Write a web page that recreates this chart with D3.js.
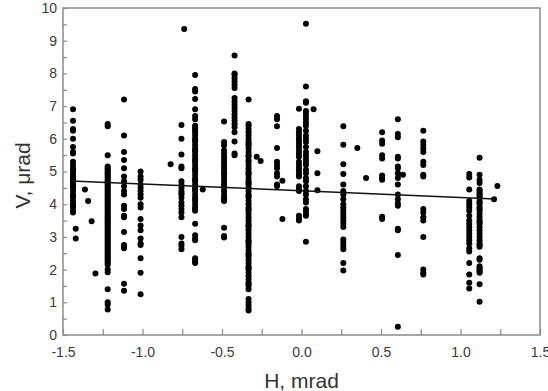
<!DOCTYPE html>
<html>
<head>
<meta charset="utf-8">
<script src="https://cdn.jsdelivr.net/npm/d3@7"></script>
<style>
  html, body { margin: 0; padding: 0; background: #fff; }
  svg { display: block; }
</style>
</head>
<body>
<div id="chart"></div>
<script>
// columnas de medidas: posición H (mrad) y lista de valores V (µrad)
const columnH = [
  -1.437, -1.420, -1.362, -1.342, -1.320, -1.296,
  -1.219, -1.116, -1.012, -0.823, -0.755, -0.738,
  -0.669, -0.621, -0.487, -0.421, -0.333, -0.282, -0.257,
  -0.154, -0.120, -0.016, 0.028, 0.076, 0.100,
  0.263, 0.351, 0.406, 0.507, 0.606, 0.638,
  0.766, 1.055, 1.120, 1.211, 1.232
];

const columnV = [
  [6.9, 6.55, 6.3, 6.25, 6.0, 5.75, 5.6, 5.55, 5.3, 5.2, 5.1, 5.05, 5.0, 4.9, 4.85, 4.8, 4.75, 4.7,
   4.65, 4.6, 4.55, 4.5, 4.4, 4.3, 4.25, 4.2, 4.1, 4.0, 3.95, 3.9, 3.8, 3.75],
  [3.25, 2.95],
  [4.45],
  [4.1],
  [3.48],
  [1.88],
  [6.45, 6.38, 5.5, 5.15, 5.1, 5.05, 5.0, 4.95, 4.9, 4.85, 4.8, 4.75, 4.7, 4.65, 4.6, 4.55, 4.5, 4.45,
   4.4, 4.35, 4.3, 4.25, 4.2, 4.15, 4.1, 4.05, 4.0, 3.95, 3.9, 3.85, 3.8, 3.75, 3.7, 3.65, 3.6, 3.55,
   3.5, 3.45, 3.4, 3.35, 3.3, 3.25, 3.2, 3.15, 3.1, 3.05, 3.0, 2.95, 2.9, 2.85, 2.8, 2.75, 2.7, 2.65,
   2.6, 2.55, 2.5, 2.45, 2.4, 2.35, 2.3, 2.25, 2.2, 2.15, 2.0, 1.92, 1.4, 1.0, 0.93, 0.78],
  [7.2, 6.1, 5.6, 5.35, 5.1, 4.85, 4.7, 4.55, 4.4, 4.3, 3.95, 3.85, 3.65, 3.6, 3.15, 2.75, 2.7, 2.65, 1.57, 1.35],
  [5.0, 4.85, 4.75, 4.6, 4.5, 4.4, 4.3, 4.2, 4.0, 3.9, 3.55, 3.35, 3.2, 2.95, 2.8, 2.75, 2.35, 1.9, 1.25],
  [5.22],
  [6.42, 6.0, 5.52, 5.15, 5.1, 4.7, 4.6, 4.5, 4.4, 4.35, 4.3, 4.2, 4.05, 3.95, 3.85, 3.75, 3.6, 3.0, 2.8, 2.72, 2.62],
  [9.36],
  [7.95, 7.52, 7.45, 7.22, 6.9, 6.7, 6.6, 6.4, 6.35, 6.3, 6.25, 6.2, 6.1, 6.0, 5.95, 5.9, 5.8, 5.7,
   5.65, 5.6, 5.5, 5.4, 5.35, 5.3, 5.2, 5.1, 5.05, 5.0, 4.9, 4.8, 4.75, 4.7, 4.6, 4.5, 4.45, 4.4,
   4.3, 4.2, 4.15, 4.1, 4.0, 3.9, 3.85, 3.8, 3.4, 3.05, 2.95, 2.9, 2.35, 2.3, 2.25, 2.2],
  [4.45],
  [6.53, 5.9, 5.8, 5.65, 5.55, 5.45, 5.35, 5.25, 5.15, 5.1, 5.0, 4.95, 4.9, 4.8, 4.7, 4.6, 4.55, 4.5,
   4.4, 4.3, 4.2, 4.15, 4.1, 3.28, 3.03, 2.98],
  [8.55, 8.0, 7.95, 7.85, 7.75, 7.65, 7.55, 7.25, 7.15, 7.05, 6.95, 6.85, 6.75, 6.65, 6.55, 6.45, 6.35,
   6.2, 5.92, 5.55, 5.5],
  [7.2, 6.45, 6.4, 6.3, 6.2, 6.1, 6.0, 5.9, 5.85, 5.8, 5.7, 5.6, 5.5, 5.45, 5.35, 5.3, 5.2, 5.1, 5.0,
   4.95, 4.9, 4.8, 4.7, 4.65, 4.6, 4.5, 4.4, 4.3, 4.25, 4.2, 4.1, 4.0, 3.9, 3.85, 3.8, 3.7, 3.6, 3.5,
   3.4, 3.35, 3.3, 3.2, 3.1, 3.0, 2.9, 2.85, 2.8, 2.7, 2.6, 2.5, 2.45, 2.4, 2.3, 2.2, 2.1, 2.05, 2.0,
   1.9, 1.8, 1.7, 1.6, 1.55, 1.5, 1.4, 1.1, 1.0, 0.9, 0.8, 0.75],
  [5.45],
  [5.32],
  [6.7, 6.6, 6.38, 5.72, 5.3, 5.2, 5.1, 4.95, 4.85, 4.6, 4.55],
  [4.72, 3.55],
  [6.92, 6.3, 6.2, 6.1, 6.0, 5.95, 5.85, 5.75, 5.65, 5.55, 5.45, 5.3, 5.2, 5.1, 5.0, 4.9, 4.85, 4.55,
   4.45, 4.4, 3.65, 3.55, 3.5],
  [9.52, 7.6, 7.15, 7.1, 6.85, 6.8, 6.7, 6.6, 6.5, 6.4, 6.25, 6.1, 6.0, 5.9, 5.75, 5.6, 5.5, 5.4, 5.3,
   5.2, 5.05, 4.95, 4.8, 4.7, 4.55, 4.4, 4.3, 4.15, 4.05, 3.85, 3.8, 3.7, 3.65, 2.85],
  [6.9],
  [5.62, 4.95, 4.43],
  [6.38, 5.82, 5.22, 4.92, 4.6, 4.4, 4.3, 4.15, 4.0, 3.9, 3.8, 3.7, 3.6, 3.5, 3.4, 3.3, 2.92, 2.82,
   2.72, 2.62, 2.2, 1.97],
  [5.72],
  [4.8],
  [6.2, 5.95, 5.85, 5.5, 5.4, 4.88, 4.8, 4.75, 3.62, 3.55],
  [6.6, 6.15, 6.05, 5.45, 5.4, 5.15, 5.1, 4.95, 4.8, 4.6, 4.3, 4.15, 4.02, 3.95, 3.25, 3.2, 2.45, 0.25],
  [4.9],
  [6.25, 5.92, 5.82, 5.7, 5.6, 5.3, 5.2, 4.9, 4.85, 3.85, 3.75, 3.6, 3.5, 3.0, 2.0, 1.9, 1.85],
  [4.92, 4.82, 4.45, 4.1, 4.0, 3.9, 3.8, 3.65, 3.5, 3.4, 3.3, 3.2, 3.1, 3.0, 2.9, 2.8, 2.65, 2.55,
   2.2, 1.85, 1.6, 1.42],
  [5.42, 4.9, 4.75, 4.65, 4.45, 4.4, 4.35, 4.3, 4.25, 4.2, 4.1, 4.05, 4.0, 3.9, 3.85, 3.8, 3.7, 3.6,
   3.5, 3.45, 3.4, 3.3, 3.2, 3.1, 3.0, 2.9, 2.8, 2.75, 2.7, 2.35, 2.3, 2.1, 2.05, 2.0, 1.95, 1.9,
   1.55, 1.02],
  [4.15],
  [4.56]
];

// recta de ajuste lineal V = a + b*H
const fitIntercept = 4.41;
const fitSlope = -0.206;
const fitRange = [-1.45, 1.22];

// ejes
const xDomain = [-1.5, 1.5];
const yDomain = [0, 10];
const xTickValues = [-1.5, -1.25, -1.0, -0.75, -0.5, -0.25, 0, 0.25, 0.5, 0.75, 1.0, 1.25, 1.5];
const yTickValues = [0, 0.5, 1, 1.5, 2, 2.5, 3, 3.5, 4, 4.5, 5, 5.5, 6, 6.5, 7, 7.5, 8, 8.5, 9, 9.5, 10];

// Configurar dimensiones
const W = 548, H = 391;
const margin = { top: 8, right: 8, bottom: 56, left: 63 };
const width = W - margin.left - margin.right;
const height = H - margin.top - margin.bottom;

const svg = d3.select("#chart").append("svg")
    .attr("width", W)
    .attr("height", H);

const g = svg.append("g")
    .attr("transform", `translate(${margin.left}, ${margin.top})`);

const x = d3.scaleLinear().domain(xDomain).range([0, width]);
const y = d3.scaleLinear().domain(yDomain).range([height, 0]);

const fontFamily = "'Liberation Sans', Arial, sans-serif";
const axisColor = "#8a8a8a";

// Eje X (marcas hacia dentro)
const xAxis = g.append("g")
    .attr("transform", `translate(0, ${height})`)
    .call(d3.axisBottom(x)
        .tickValues(xTickValues)
        .tickSizeInner(-6)
        .tickSizeOuter(0)
        .tickPadding(12)
        .tickFormat(d => (Math.abs(d * 2 - Math.round(d * 2)) < 1e-9) ? d.toFixed(1) : ""));

// Eje Y
const yAxis = g.append("g")
    .call(d3.axisLeft(y)
        .tickValues(yTickValues)
        .tickSizeInner(-4)
        .tickSizeOuter(0)
        .tickPadding(6)
        .tickFormat(d => Number.isInteger(d) ? d : ""));

[xAxis, yAxis].forEach(ax => {
    ax.select(".domain").remove();
    ax.selectAll(".tick line").attr("stroke", axisColor).attr("stroke-width", 1.2);
    ax.selectAll(".tick text")
        .style("font-family", fontFamily)
        .style("font-size", "14px")
        .attr("fill", "#3a3a3a");
});

// Marco del gráfico
g.append("rect")
    .attr("x", 0)
    .attr("y", 0)
    .attr("width", width)
    .attr("height", height)
    .attr("fill", "none")
    .attr("stroke", axisColor)
    .attr("stroke-width", 1.5);

// Puntos
const points = [];
columnH.forEach((h, i) => {
    columnV[i].forEach(v => points.push({ h: h, v: v }));
});

g.selectAll(".dot")
    .data(points)
    .enter()
    .append("circle")
    .attr("class", "dot")
    .attr("cx", d => x(d.h))
    .attr("cy", d => y(d.v))
    .attr("r", 3)
    .attr("fill", "#000");

// Recta de regresión
g.append("path")
    .datum(fitRange.map(h => ({ h: h, v: fitIntercept + fitSlope * h })))
    .attr("d", d3.line().x(d => x(d.h)).y(d => y(d.v)))
    .attr("fill", "none")
    .attr("stroke", "#111")
    .attr("stroke-width", 1.5);

// Títulos de los ejes
svg.append("text")
    .attr("x", margin.left + width / 2)
    .attr("y", 388)
    .attr("text-anchor", "middle")
    .style("font-family", fontFamily)
    .style("font-size", "21px")
    .attr("fill", "#333")
    .text("H, mrad");

svg.append("text")
    .attr("transform", `translate(30, ${margin.top + height / 2 + 4}) rotate(-90)`)
    .attr("text-anchor", "middle")
    .style("font-family", fontFamily)
    .style("font-size", "21px")
    .attr("fill", "#333")
    .text("V, μrad");
</script>
</body>
</html>
